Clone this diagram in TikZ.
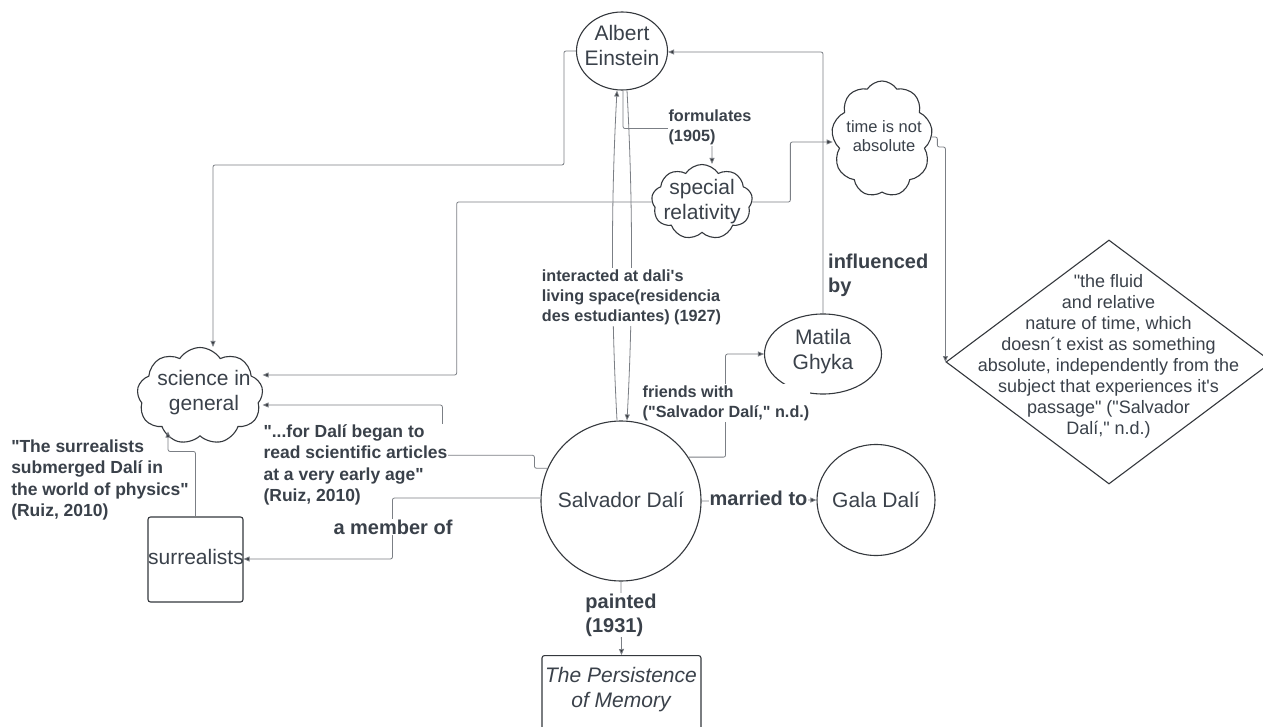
\documentclass[tikz,border=0pt]{standalone}
\usepackage{fontspec}
\setmainfont{Liberation Sans}[Ligatures=TeXOff]
\usetikzlibrary{shapes.geometric,shapes.symbols,arrows.meta,calc}
\definecolor{txt}{HTML}{3A414A}
\definecolor{edgecol}{HTML}{34383D}
\definecolor{conncol}{HTML}{7B7F85}
\begin{document}
\begin{tikzpicture}[x=1pt,y=-1pt,
  shp/.style={draw=edgecol, line width=1.1pt, inner sep=0pt},
  ell/.style={shp, ellipse},
  cld/.style={shp, cloud, cloud puffs=9, cloud puff arc=115, cloud ignores aspect},
  bx/.style={shp, rectangle, rounded corners=2.5pt},
  ntext/.style={text=txt, align=center, font=\fontsize{21}{25}\selectfont, inner sep=0pt},
  lab/.style={text=txt, align=left, font=\bfseries\fontsize{16.2}{20}\selectfont, inner sep=1pt, fill=white},
  qlab/.style={text=txt, align=left, font=\bfseries\fontsize{17.5}{21.3}\selectfont, inner sep=1pt, fill=white},
  blab/.style={text=txt, align=left, font=\bfseries\fontsize{20}{24}\selectfont, inner sep=1pt, fill=white},
  conn/.style={draw=conncol, line width=0.8pt, rounded corners=2pt},
  arr/.style={conn, -{Triangle[length=6pt,width=5pt,fill=edgecol]}},
]
\useasboundingbox[fill=white] (0,0) rectangle (1263,727);

% shapes
\node[ell, minimum width=91, minimum height=78] (ein) at (622,51) {};
\node[ntext] (ein-t) at (622,45) {Albert\\Einstein};
\node[ell, minimum width=117, minimum height=80] (mat) at (823,354) {};
\node[ntext] (mat-t) at (823,352) {Matila\\Ghyka};
\node[shp, circle, minimum size=160] (dali) at (621,501) {};
\node[ntext] (dali-t) at (621,500) {Salvador Dalí};
\node[ell, minimum width=118, minimum height=111] (gala) at (876,500) {};
\node[ntext] (gala-t) at (876,500) {Gala Dalí};
\node[cld, minimum width=126, minimum height=97] (sci) at (200,396) {};
\node[ntext] (sci-t) at (204,393) {science in\\general};
\node[cld, minimum width=101, minimum height=75] (sr) at (702,202) {};
\node[ntext] (sr-t) at (702,202) {special\\relativity};
\node[cld, minimum width=101, minimum height=116] (time) at (882,139) {};
\node[ntext, font=\fontsize{16.5}{19}\selectfont] (time-t) at (884,136) {time is not\\absolute};
\node[shp, diamond, minimum width=326, minimum height=244] (diam) at (1109,362) {};
\node[ntext, font=\fontsize{18}{21}\selectfont] (diam-t) at (1108.5,356) {"the fluid\\and relative\\nature of time, which\\doesn´t exist as something\\absolute, independently from the\\subject that experiences it's\\passage" ("Salvador\\Dalí," n.d.)};
\node[bx, minimum width=95, minimum height=85] (sur) at (195.5,559.5) {};
\node[ntext] (sur-t) at (196,557) {surrealists};
\node[bx, minimum width=159, minimum height=105, anchor=north] (pm) at (621.5,655) {};
\node[ntext, font=\itshape\fontsize{21}{25}\selectfont] (pm-t) at (621,690) {The Persistence\\of Memory};

% connectors
\draw[arr] (ein.west) -- ++(-12,0) -- ++(0,114) -| ($(sci.north)+(13,0)$);
\draw[arr] ([xshift=-4pt]dali.north) .. controls +(-6,-110) and +(-6,110) .. ([xshift=-5pt]ein.south);
\draw[arr] ([xshift=5pt]ein.south) .. controls +(6,110) and +(6,-110) .. ([xshift=6pt]dali.north);
\draw[arr] ([xshift=1pt]ein.south) -- ++(0,38) -| ($(sr.north)+(10,0)$);
\draw[arr] (sr.west) -- ++(-195,0) |- ($(sci.east)+(0,-21)$);
\draw[arr] (sr.east) -- ++(38,0) |- ($(time.west)+(0,3)$);
\draw[arr] ($(time.east)+(0,-2)$) -- ++(6,0) -- ++(0,10) -| (diam.west);
\draw[arr] (mat.north) |- ($(ein.east)+(0,1)$);
\draw[arr] (dali.33) -- ++(37,0) |- (mat.west);
\draw[arr] (dali.156) -- ++(-13,0) -- ++(0,-13) -- ++(-92,0) |- ($(sci.east)+(0,9)$);
\draw[arr] (sur.north) -- ++(0,-65) -| ($(sci.south)+(-32,-5)$);
\draw[arr] (dali.east) -- (gala.west);
\draw[arr] (dali.south) -- (pm.north);

% labels
\node[lab] (l-form) at (710,127) {formulates\\(1905)};
\node[lab] (l-int) at (631.5,297) {interacted at dali's\\living space(residencia\\des estudiantes) (1927)};
\node[lab] (l-fr) at (726,403) {friends with\\("Salvador Dalí," n.d.)};
\node[blab, fill=none, anchor=west] (l-inf) at (827,275) {influenced\\by};
\node[qlab] (l-early) at (355.5,465) {"...for Dalí began to\\read scientific articles\\at a very early age"\\(Ruiz, 2010)};
\node[qlab, fill=none] (l-subm) at (100,480) {"The surrealists\\submerged Dalí in\\the world of physics"\\(Ruiz, 2010)};

% drawn after the quote label so it stays visible
\draw[arr] ($(dali.west)+(0,-3)$) -- ++(-148,0) |- ($(sur.east)+(0,-0.5)$);
\node[blab] (l-mem) at (393,527) {a member of};
\node[blab] (l-mar) at (758.5,498) {married to};
\node[blab] (l-paint) at (621,615) {painted\\(1931)};
\end{tikzpicture}
\end{document}
